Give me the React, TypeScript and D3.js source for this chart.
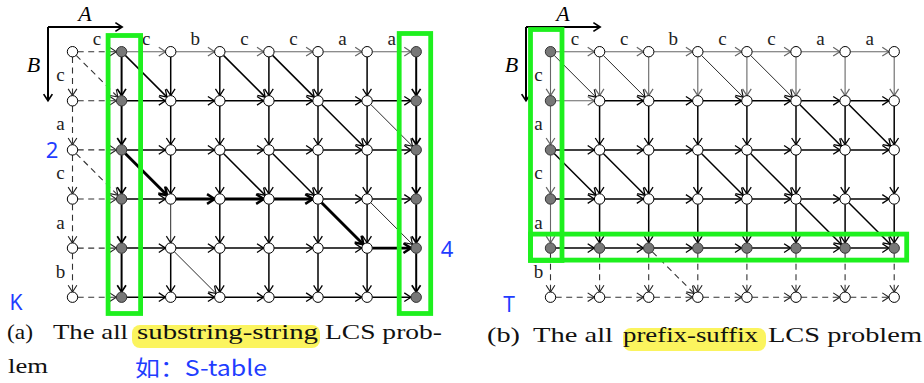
import * as d3 from 'd3'

// strings along the top (A) and down the left (B)
const strA = ['c', 'c', 'b', 'c', 'c', 'a', 'a']
const strB = ['c', 'a', 'c', 'a', 'b']

// edges given as [kind, row, col] of the source node
const pathEdgesA = [['d', 2, 1], ['h', 3, 2], ['h', 3, 3], ['h', 3, 4], ['d', 3, 5], ['h', 4, 6]]
const thinEdgesA = [['v', 3, 2], ['d', 4, 2], ['d', 1, 6], ['d', 3, 6]]

const captionA = ['(a)', 'The all', 'substring-string', 'LCS prob-']
const captionB = ['(b)', 'The all', 'prefix-suffix', 'LCS problem']

const STEP = 49.1
const R = 5.2
const SERIF = "'Liberation Serif', 'Times New Roman', serif"

type Style = 'dash' | 'gray' | 'thin' | 'normal' | 'bold' | 'thick'

const has = (list: (string | number)[][], k: string, r: number, c: number) =>
  list.some((e) => e[0] === k && e[1] === r && e[2] === c)

function styleA(k: string, r: number, c: number): Style {
  if (c === 0) return 'dash'
  if (k === 'h' && r === 0) return 'gray'
  if (has(pathEdgesA, k, r, c)) return 'thick'
  if (has(thinEdgesA, k, r, c)) return 'thin'
  if (k === 'v' && (c === 1 || c === 7)) return 'bold'
  return 'normal'
}

function styleB(k: string, r: number, c: number): Style {
  if ((k === 'v' || k === 'd') && r === 4) return 'dash'
  if (k === 'h' && r === 5) return 'dash'
  if (r === 0 && (k === 'h' || k === 'v')) return 'gray'
  if (r === 0 && k === 'd') return 'thin'
  if (k === 'v' && c === 0) return 'gray'
  if (k === 'h' && r === 1 && c === 0) return 'gray'
  return 'normal'
}

const strokeOf: Record<Style, [string, number]> = {
  dash: ['#333', 1.1],
  gray: ['#666', 1.1],
  thin: ['#111', 0.9],
  normal: ['#000', 1.5],
  bold: ['#000', 2],
  thick: ['#000', 2.9],
}

function Arrow({ x1, y1, x2, y2, st, pad = R }: { x1: number; y1: number; x2: number; y2: number; st: Style; pad?: number }) {
  const dx = x2 - x1
  const dy = y2 - y1
  const len = Math.hypot(dx, dy)
  const ux = dx / len
  const uy = dy / len
  const sx = x1 + ux * pad
  const sy = y1 + uy * pad
  const ex = x2 - ux * pad
  const ey = y2 - uy * pad
  const [col, w] = strokeOf[st]
  const L = st === 'thick' ? 9 : 8
  const a = (33 * Math.PI) / 180
  const h1x = ex - L * (ux * Math.cos(a) - uy * Math.sin(a))
  const h1y = ey - L * (uy * Math.cos(a) + ux * Math.sin(a))
  const h2x = ex - L * (ux * Math.cos(a) + uy * Math.sin(a))
  const h2y = ey - L * (uy * Math.cos(a) - ux * Math.sin(a))
  const hw = st === 'dash' ? 1.1 : Math.max(1.2, w * 0.85)
  return (
    <g>
      <line x1={sx} y1={sy} x2={ex} y2={ey} stroke={col} strokeWidth={w} strokeDasharray={st === 'dash' ? '6,4.5' : undefined} />
      <path d={`M${h1x},${h1y} L${ex},${ey} L${h2x},${h2y}`} fill="none" stroke={st === 'dash' ? '#222' : col} strokeWidth={hw} strokeLinejoin="miter" />
    </g>
  )
}

function Grid({ x0, panel }: { x0: number; panel: 'a' | 'b' }) {
  const x = d3.scaleLinear().domain([0, strA.length]).range([x0, x0 + strA.length * STEP])
  const y = d3.scaleLinear().domain([0, strB.length]).range([51.7, 51.7 + strB.length * STEP])
  const cols = d3.range(strA.length + 1)
  const rows = d3.range(strB.length + 1)
  const styleFn = panel === 'a' ? styleA : styleB
  const edges: { k: string; r: number; c: number }[] = []
  rows.forEach((r) =>
    cols.forEach((c) => {
      if (c < strA.length) edges.push({ k: 'h', r, c })
      if (r < strB.length) edges.push({ k: 'v', r, c })
      if (r < strB.length && c < strA.length && strA[c] === strB[r]) edges.push({ k: 'd', r, c })
    })
  )
  const isGray = (r: number, c: number) =>
    panel === 'a' ? c === 1 || c === strA.length : (c === 0 && r < strB.length) || r === strB.length - 1
  const ax = x(0) - 24.5
  const ay = 27
  return (
    <g>
      {/* axis arrows */}
      <Arrow x1={ax} y1={ay} x2={x(1) + 0.5} y2={ay} st="bold" pad={0} />
      <Arrow x1={ax} y1={ay} x2={ax} y2={y(1)} st="bold" pad={0} />
      <text x={x(0) + 12.5} y={21} fontFamily={SERIF} fontStyle="italic" fontSize={22} textAnchor="middle">A</text>
      <text x={x(0) - 39} y={72} fontFamily={SERIF} fontStyle="italic" fontSize={22} textAnchor="middle">B</text>
      {strA.map((s, i) => (
        <text key={'a' + i} x={(x(i) + x(i + 1)) / 2} y={45} fontFamily={SERIF} fontSize={19} fill="#222" textAnchor="middle">{s}</text>
      ))}
      {strB.map((s, i) => (
        <text key={'b' + i} x={x(0) - 12} y={(y(i) + y(i + 1)) / 2 + 5} fontFamily={SERIF} fontSize={19} fill="#222" textAnchor="middle">{s}</text>
      ))}
      {edges.map((e, i) => {
        const dc = e.k === 'v' ? 0 : 1
        const dr = e.k === 'h' ? 0 : 1
        return <Arrow key={i} x1={x(e.c)} y1={y(e.r)} x2={x(e.c + dc)} y2={y(e.r + dr)} st={styleFn(e.k, e.r, e.c)} />
      })}
      {rows.map((r) =>
        cols.map((c) => (
          <circle key={r + '-' + c} cx={x(c)} cy={y(r)} r={R} fill={isGray(r, c) ? '#777' : '#fff'} stroke={isGray(r, c) ? '#333' : '#000'} strokeWidth={1} />
        ))
      )}
      {/* green highlight boxes */}
      {panel === 'a' ? (
        <g fill="none" stroke="#1ef01e" strokeWidth={4.8}>
          <rect x={x(1) - 13.5} y={35.5} width={32.5} height={278} />
          <rect x={x(strA.length) - 17} y={33.5} width={31.5} height={280} />
        </g>
      ) : (
        <g fill="none" stroke="#1ef01e" strokeWidth={4.8}>
          <rect x={x(0) - 20} y={29.5} width={31.5} height={231} />
          <rect x={x(0) - 20} y={y(4) - 14} width={x(strA.length) + 12.5 - (x(0) - 20)} height={26} />
        </g>
      )}
    </g>
  )
}

function Caption({ parts, xs, widths, baseline, hl }: { parts: string[]; xs: number[]; widths: number[]; baseline: number; hl: [number, number] }) {
  return (
    <g>
      <rect x={hl[0]} y={baseline - 14} width={hl[1] - hl[0]} height={23} rx={8} fill="#fbf45e" />
      {parts.map((p, i) => (
        <text key={i} x={xs[i]} y={baseline} fontFamily={SERIF} fontSize={22} fill="#111" textLength={widths[i]} lengthAdjust="spacingAndGlyphs">{p}</text>
      ))}
    </g>
  )
}

export default function App() {
  const blue = '#1f3dff'
  const sans = "'Noto Sans', sans-serif"
  return (
    <svg width={924} height={383} style={{ position: 'absolute', left: 0, top: 0, background: '#fff' }}>
      <Grid x0={72.5} panel="a" />
      <Grid x0={550.5} panel="b" />
      <text x={52} y={158} fontFamily={sans} fontSize={22} fill={blue} textAnchor="middle">2</text>
      <text x={447} y={257} fontFamily={sans} fontSize={22} fill={blue} textAnchor="middle">4</text>
      <text x={16} y={310} fontFamily={sans} fontSize={21} fill={blue} textAnchor="middle">K</text>
      <text x={509} y={312} fontFamily={sans} fontSize={21} fill={blue} textAnchor="middle">T</text>
      <Caption parts={captionA} xs={[7, 53, 137, 325]} widths={[26, 75, 181, 117]} baseline={339} hl={[132, 320]} />
      <text x={8} y={373} fontFamily={SERIF} fontSize={22} fill="#111" textLength={40} lengthAdjust="spacingAndGlyphs">lem</text>
      <text x={135} y={376} fontFamily="'Noto Sans CJK SC', sans-serif" fontSize={22} fill={blue} textLength={132} lengthAdjust="spacingAndGlyphs">如：S-table</text>
      <Caption parts={captionB} xs={[487, 533, 623, 768]} widths={[33, 80, 135, 154]} baseline={342} hl={[623, 766]} />
    </svg>
  )
}
